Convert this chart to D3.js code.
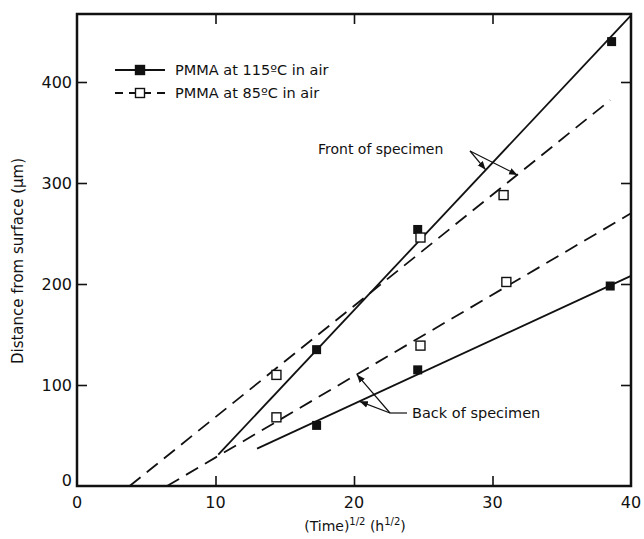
<!DOCTYPE html>
<html>
<head>
<meta charset="utf-8">
<script src="https://cdn.jsdelivr.net/npm/d3@7"></script>
<style>
  body { margin: 0; background: #fff; }
  svg text { font-family: "DejaVu Sans", sans-serif; fill: #111; }
</style>
</head>
<body>
<div id="chart"></div>
<script>
// measured points, (time)^1/2 vs distance (um)
var x115 = [17.3, 17.3, 24.6, 24.6, 38.6, 38.5];
var y115 = [135, 60, 254, 115, 440, 198];
var x85 = [14.4, 14.4, 24.8, 24.8, 30.8, 31.0];
var y85 = [110, 68, 246, 139, 288, 202];

// fitted lines (start and end points)
var front115 = [[10.2, 31], [40, 466]];
var back115 = [[13, 37], [40, 208]];
var front85 = [[3.8, 0], [38.5, 382]];
var back85 = [[6.5, 0], [40, 270]];

var xTicks = [0, 10, 20, 30, 40];
var yTicks = [0, 100, 200, 300, 400];
var legendLabels = ["PMMA at 115\u00baC in air", "PMMA at 85\u00baC in air"];

var W = 644, H = 539;
var margin = { top: 14, right: 13, bottom: 53, left: 77 };

var svg = d3.select("#chart").append("svg").attr("width", W).attr("height", H);

var x = d3.scaleLinear().domain([0, 40]).range([margin.left, W - margin.right]);
var y = d3.scaleLinear().domain([0, 400]).range([H - margin.bottom, 82]);
var yTop = y.invert(margin.top);

// frame
svg.append("rect")
  .attr("x", x(0)).attr("y", y(yTop))
  .attr("width", x(40) - x(0)).attr("height", y(0) - y(yTop))
  .attr("fill", "none").attr("stroke", "#111").attr("stroke-width", 2.5);

// inside ticks on all four sides
var tl = 10;
svg.append("g").attr("transform", "translate(0," + y(0) + ")")
  .call(d3.axisTop(x).tickValues(xTicks.slice(1, 4)).tickSize(tl).tickFormat(""))
  .call(g => g.select(".domain").remove());
svg.append("g").attr("transform", "translate(0," + y(yTop) + ")")
  .call(d3.axisBottom(x).tickValues(xTicks.slice(1, 4)).tickSize(tl).tickFormat(""))
  .call(g => g.select(".domain").remove());
svg.append("g").attr("transform", "translate(" + x(0) + ",0)")
  .call(d3.axisRight(y).tickValues(yTicks.slice(1)).tickSize(tl).tickFormat(""))
  .call(g => g.select(".domain").remove());
svg.append("g").attr("transform", "translate(" + x(40) + ",0)")
  .call(d3.axisLeft(y).tickValues(yTicks.slice(1)).tickSize(tl).tickFormat(""))
  .call(g => g.select(".domain").remove());
svg.selectAll(".tick line").attr("stroke", "#111").attr("stroke-width", 1.6);

// tick labels
svg.selectAll(".xlab").data(xTicks).enter().append("text")
  .attr("x", d => x(d)).attr("y", y(0) + 22)
  .attr("text-anchor", "middle").style("font-size", "16px")
  .text(d => d);
svg.selectAll(".ylab").data(yTicks).enter().append("text")
  .attr("x", x(0) - 5).attr("y", d => y(d) + 6 - (d === 0 ? 6 : 0))
  .attr("text-anchor", "end").style("font-size", "16px")
  .text(d => d);

// axis titles
var xt = svg.append("text").attr("x", 355).attr("y", 531)
  .attr("text-anchor", "middle").style("font-size", "14px");
xt.append("tspan").text("(Time)");
xt.append("tspan").attr("dy", -6).style("font-size", "10px").text("1/2");
xt.append("tspan").attr("dy", 6).text(" (h");
xt.append("tspan").attr("dy", -6).style("font-size", "10px").text("1/2");
xt.append("tspan").attr("dy", 6).text(")");

svg.append("text")
  .attr("transform", "translate(23,261) rotate(-90)")
  .attr("text-anchor", "middle").style("font-size", "15px")
  .text("Distance from surface (\u03bcm)");

// fitted lines
var line = d3.line().x(d => x(d[0])).y(d => y(d[1]));
[front115, back115].forEach(function (l) {
  svg.append("path").attr("d", line(l)).attr("fill", "none")
    .attr("stroke", "#111").attr("stroke-width", 1.8);
});
[front85, back85].forEach(function (l) {
  svg.append("path").attr("d", line(l)).attr("fill", "none")
    .attr("stroke", "#111").attr("stroke-width", 1.8)
    .attr("stroke-dasharray", "14,8");
});

// markers
var s = 9;
svg.selectAll(".p115").data(x115).enter().append("rect")
  .attr("x", (d, i) => x(d) - s / 2).attr("y", (d, i) => y(y115[i]) - s / 2)
  .attr("width", s).attr("height", s).attr("fill", "#111");
svg.selectAll(".p85").data(x85).enter().append("rect")
  .attr("x", (d, i) => x(d) - s / 2).attr("y", (d, i) => y(y85[i]) - s / 2)
  .attr("width", s).attr("height", s).attr("fill", "#fff")
  .attr("stroke", "#111").attr("stroke-width", 1.4);

// legend
var lg = svg.append("g");
legendLabels.forEach(function (t, i) {
  var ly = 70 + i * 23;
  lg.append("line").attr("x1", 115).attr("x2", 165).attr("y1", ly).attr("y2", ly)
    .attr("stroke", "#111").attr("stroke-width", 1.8)
    .attr("stroke-dasharray", i ? "8,6" : null);
  lg.append("rect").attr("x", 140 - s / 2).attr("y", ly - s / 2)
    .attr("width", s).attr("height", s)
    .attr("fill", i ? "#fff" : "#111").attr("stroke", "#111").attr("stroke-width", 1.4);
  lg.append("text").attr("x", 175).attr("y", ly + 5)
    .style("font-size", "14.5px").text(t);
});

// annotations
svg.append("defs").append("marker")
  .attr("id", "arr").attr("viewBox", "0 0 10 10").attr("refX", 10).attr("refY", 5)
  .attr("markerWidth", 7).attr("markerHeight", 7).attr("orient", "auto")
  .append("path").attr("d", "M0,1 L10,5 L0,9 z").attr("fill", "#111");

svg.append("text").attr("x", 318).attr("y", 154).style("font-size", "14px")
  .text("Front of specimen");
var fs = [470, 151];
[[29.5, 7.9, 14.5], [31.8, 3.8, 11.0]].forEach(function (p) {
  svg.append("line").attr("x1", fs[0]).attr("y1", fs[1])
    .attr("x2", x(p[0])).attr("y2", y((p[0] - p[1]) * p[2]))
    .attr("stroke", "#111").attr("stroke-width", 1.2).attr("marker-end", "url(#arr)");
});

svg.append("text").attr("x", 412).attr("y", 418).style("font-size", "14.5px")
  .text("Back of specimen");
var bs = [390, 413];
svg.append("line").attr("x1", bs[0]).attr("y1", bs[1]).attr("x2", 407).attr("y2", bs[1])
  .attr("stroke", "#111").attr("stroke-width", 1.2);
[[20.2, 6.5, 8.06, 0], [20.4, 13, 6.33, 37]].forEach(function (p) {
  svg.append("line").attr("x1", bs[0]).attr("y1", bs[1])
    .attr("x2", x(p[0])).attr("y2", y(p[3] + (p[0] - p[1]) * p[2]))
    .attr("stroke", "#111").attr("stroke-width", 1.2).attr("marker-end", "url(#arr)");
});
</script>
</body>
</html>
